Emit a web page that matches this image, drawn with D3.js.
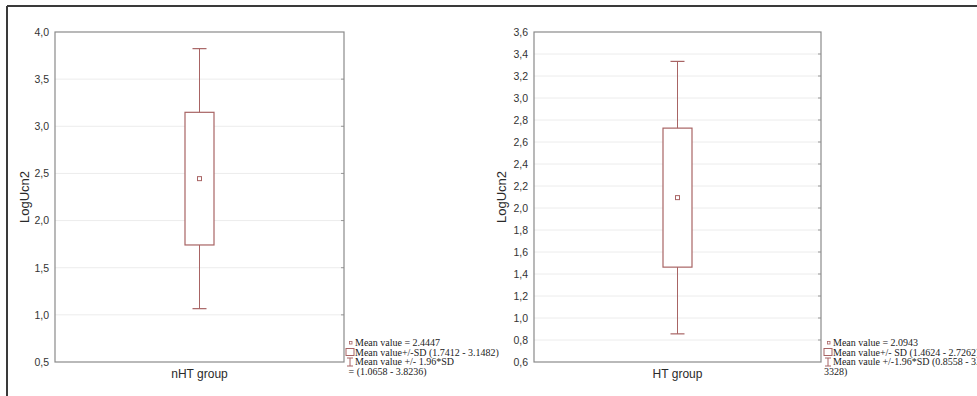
<!DOCTYPE html>
<html>
<head>
<meta charset="utf-8">
<script src="https://cdn.jsdelivr.net/npm/d3@7"></script>
<style>
  body { margin: 0; background: #fff; }
  svg { display: block; }
</style>
</head>
<body>
<svg id="chart" width="977" height="396"></svg>
<script>
const svg = d3.select("#chart");
const boxColor = "#a86464";

// group data
const groups = ["nHT group", "HT group"];
const means = [2.4447, 2.0943];
const sdLow = [1.7412, 1.4624];
const sdHigh = [3.1482, 2.7262];
const ciLow = [1.0658, 0.8558];
const ciHigh = [3.8236, 3.3328];
const yDomains = [[0.5, 4.0], [0.6, 3.6]];
const yTicks = [
  [0.5, 1.0, 1.5, 2.0, 2.5, 3.0, 3.5, 4.0],
  [0.6, 0.8, 1.0, 1.2, 1.4, 1.6, 1.8, 2.0, 2.2, 2.4, 2.6, 2.8, 3.0, 3.2, 3.4, 3.6]
];
const legendLines = [
  ["Mean value = 2.4447", "Mean value+/-SD (1.7412 - 3.1482)", "Mean value +/- 1.96*SD", " = (1.0658 - 3.8236)"],
  ["Mean value = 2.0943", "Mean value+/- SD (1.4624 - 2.7262)", "Mean vaule +/-1.96*SD (0.8558 - 3.", "3328)"]
];

// panel positions
const panels = [
  { left: 55, right: 344, top: 32, bottom: 362, titleX: 25, legX: 350 },
  { left: 534, right: 821, top: 32, bottom: 362, titleX: 502, legX: 828 }
];

// outer frame (top and left only visible)
svg.append("line").attr("x1", 7).attr("x2", 977).attr("y1", 6).attr("y2", 6)
  .attr("stroke", "#3a3a3a").attr("stroke-width", 2);
svg.append("line").attr("x1", 7).attr("x2", 7).attr("y1", 6).attr("y2", 396)
  .attr("stroke", "#3a3a3a").attr("stroke-width", 2);

const fmt = d => d3.format(".1f")(d).replace(".", ",");

panels.forEach(function(p, i) {
  const g = svg.append("g");
  const y = d3.scaleLinear().domain(yDomains[i]).range([p.bottom, p.top]);
  const x = d3.scaleBand().domain([groups[i]]).range([p.left, p.right]);
  const cx = x(groups[i]) + x.bandwidth() / 2;

  // gridlines
  g.selectAll("line.grid").data(yTicks[i].slice(1, -1))
    .join("line")
    .attr("class", "grid")
    .attr("x1", p.left).attr("x2", p.right)
    .attr("y1", d => y(d)).attr("y2", d => y(d))
    .attr("stroke", "#ececec").attr("stroke-width", 1);

  // small ticks on the right edge
  g.selectAll("line.rtick").data(yTicks[i].slice(1, -1))
    .join("line")
    .attr("class", "rtick")
    .attr("x1", p.right - 3).attr("x2", p.right)
    .attr("y1", d => y(d)).attr("y2", d => y(d))
    .attr("stroke", "#999").attr("stroke-width", 1);

  // plot frame
  g.append("rect")
    .attr("x", p.left).attr("y", p.top)
    .attr("width", p.right - p.left).attr("height", p.bottom - p.top)
    .attr("fill", "none").attr("stroke", "#8a8a8a").attr("stroke-width", 1.2);

  // y axis
  const yAxis = g.append("g")
    .attr("transform", "translate(" + p.left + ",0)")
    .call(d3.axisLeft(y).tickValues(yTicks[i]).tickFormat(fmt).tickSize(0).tickPadding(6));
  yAxis.select(".domain").remove();
  yAxis.selectAll("text")
    .style("font-family", "Arial, 'Liberation Sans', sans-serif")
    .style("font-size", "10.5px")
    .style("fill", "#333");

  // x axis label
  g.append("text")
    .attr("x", cx).attr("y", p.bottom + 16)
    .attr("text-anchor", "middle")
    .style("font-family", "Arial, 'Liberation Sans', sans-serif")
    .style("font-size", "12px")
    .style("fill", "#2a2a2a")
    .text(groups[i]);

  // y title
  g.append("text")
    .attr("transform", "translate(" + (p.titleX + 4) + "," + ((p.top + p.bottom) / 2) + ") rotate(-90)")
    .attr("text-anchor", "middle")
    .style("font-family", "Arial, 'Liberation Sans', sans-serif")
    .style("font-size", "13px")
    .style("fill", "#2a2a2a")
    .text("LogUcn2");

  // whisker
  const boxW = 29, capW = 14;
  g.append("line")
    .attr("x1", cx).attr("x2", cx)
    .attr("y1", y(ciLow[i])).attr("y2", y(ciHigh[i]))
    .attr("stroke", boxColor).attr("stroke-width", 1);
  [ciLow[i], ciHigh[i]].forEach(function(v) {
    g.append("line")
      .attr("x1", cx - capW / 2).attr("x2", cx + capW / 2)
      .attr("y1", y(v)).attr("y2", y(v))
      .attr("stroke", boxColor).attr("stroke-width", 1.2);
  });

  // box
  g.append("rect")
    .attr("x", cx - boxW / 2).attr("y", y(sdHigh[i]))
    .attr("width", boxW).attr("height", y(sdLow[i]) - y(sdHigh[i]))
    .attr("fill", "#fff").attr("stroke", boxColor).attr("stroke-width", 1.2);

  // mean marker
  g.append("rect")
    .attr("x", cx - 2).attr("y", y(means[i]) - 2)
    .attr("width", 4).attr("height", 4)
    .attr("fill", "none").attr("stroke", boxColor).attr("stroke-width", 1);

  // legend
  const lg = g.append("g");
  const lineY = [343, 352.5, 362, 371.5];
  lg.append("rect").attr("x", p.legX - 0.5).attr("y", lineY[0] - 1.5)
    .attr("width", 2.5).attr("height", 2.5)
    .attr("fill", "none").attr("stroke", boxColor).attr("stroke-width", 0.8);
  lg.append("rect").attr("x", p.legX - 4).attr("y", lineY[1] - 4)
    .attr("width", 8).attr("height", 7)
    .attr("fill", "#fff").attr("stroke", boxColor).attr("stroke-width", 1);
  lg.append("line").attr("x1", p.legX).attr("x2", p.legX)
    .attr("y1", lineY[2] - 4).attr("y2", lineY[2] + 4)
    .attr("stroke", boxColor).attr("stroke-width", 1);
  [lineY[2] - 4, lineY[2] + 4].forEach(function(v) {
    lg.append("line").attr("x1", p.legX - 3).attr("x2", p.legX + 3)
      .attr("y1", v).attr("y2", v)
      .attr("stroke", boxColor).attr("stroke-width", 1);
  });
  lg.selectAll("text").data(legendLines[i])
    .join("text")
    .attr("x", (d, j) => j === 3 ? p.legX - 4 : p.legX + 5)
    .attr("y", (d, j) => lineY[j] + 3)
    .style("font-family", "'Liberation Serif', 'Times New Roman', serif")
    .style("font-size", "10px")
    .style("fill", "#222")
    .style("white-space", "pre")
    .text(d => d);
});
</script>
</body>
</html>
